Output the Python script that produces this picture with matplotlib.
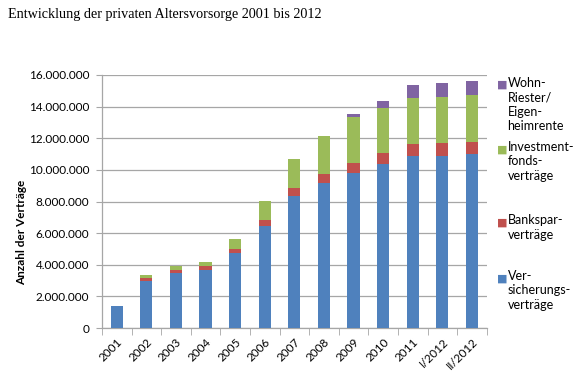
import matplotlib
matplotlib.use("Agg")
import matplotlib.pyplot as plt
import numpy as np
from matplotlib.ticker import FuncFormatter, FixedLocator

categories = ["2001", "2002", "2003", "2004", "2005", "2006", "2007", "2008",
              "2009", "2010", "2011", "I/2012", "II/2012"]
versicherung = [1.39, 3.00, 3.47, 3.66, 4.77, 6.43, 8.35, 9.15, 9.78, 10.37, 10.85, 10.89, 10.98]
bankspar = [0.0, 0.17, 0.23, 0.25, 0.25, 0.40, 0.48, 0.56, 0.65, 0.69, 0.78, 0.78, 0.79]
investment = [0.0, 0.17, 0.23, 0.27, 0.61, 1.20, 1.87, 2.40, 2.92, 2.84, 2.94, 2.94, 2.95]
wohnriester = [0.0, 0.0, 0.0, 0.0, 0.0, 0.0, 0.0, 0.03, 0.17, 0.46, 0.78, 0.85, 0.88]

series = [
    ("Ver-\nsicherungs-\nverträge", versicherung, "#4F81BD"),
    ("Bankspar-\nverträge", bankspar, "#C0504D"),
    ("Investment-\nfonds-\nverträge", investment, "#9BBB59"),
    ("Wohn-\nRiester/\nEigen-\nheimrente", wohnriester, "#8064A2"),
]

plt.rcParams['font.family'] = ['Lato', 'DejaVu Sans']

fig = plt.figure(figsize=(5.76, 3.82), dpi=100)
ax = fig.add_axes([0.177, 0.141, 0.668, 0.663])

x = np.arange(len(categories))
bottom = np.zeros(len(categories))
for label, vals, color in series:
    v = np.array(vals) * 1e6
    ax.bar(x, v, width=0.41, bottom=bottom, color=color, zorder=3, label=label)
    bottom += v

ax.set_xlim(-0.5, len(categories) - 0.5)
ax.set_ylim(0, 16e6)
ax.set_yticks(np.arange(0, 16e6 + 1, 2e6))
ax.yaxis.set_major_formatter(FuncFormatter(lambda v, p: f"{int(v):,}".replace(",", ".")))
ax.grid(axis='y', color='#a6a6a6', linewidth=0.9, zorder=0)
ax.set_axisbelow(True)

for s in ['top', 'right']:
    ax.spines[s].set_visible(False)
for s in ['left', 'bottom']:
    ax.spines[s].set_color('#a6a6a6')
    ax.spines[s].set_linewidth(0.9)

ax.tick_params(axis='y', length=4, color='#a6a6a6', labelsize=8.5, pad=5, labelcolor='black')
ax.set_xticks(x)
ax.set_xticklabels(categories, rotation=45, ha='right', va='top', rotation_mode='anchor', fontsize=8.5)
ax.tick_params(axis='x', which='major', length=0, pad=6)
ax.xaxis.set_minor_locator(FixedLocator(np.arange(-0.5, len(categories), 1.0)))
ax.tick_params(axis='x', which='minor', length=5, color='#a6a6a6')

ax.set_ylabel("Anzahl der Verträge", fontsize=8.5, fontweight='bold', va='center')
ax.yaxis.set_label_coords(-0.208, 0.38)

fig.text(0.014, 0.963, "Entwicklung der privaten Altersvorsorge 2001 bis 2012",
         family=['Liberation Serif', 'DejaVu Serif'], fontsize=10.2, va='center', ha='left')

# legend (right side, multi-line labels with top-aligned markers)
leg_y = [278.3, 222.7, 149.3, 85.0]  # first-line centre in pixels from top
for (label, vals, color), py in zip(series, leg_y):
    yf = 1 - py / 382
    fig.text(496.5 / 576, yf, "■", color=color, fontsize=8, va='center', ha='left',
             family=['DejaVu Sans'])
    fig.text(507.5 / 576, yf + 0.022, label, fontsize=9, va='top', ha='left',
             linespacing=1.25)

fig.savefig("out.png", dpi=100)
